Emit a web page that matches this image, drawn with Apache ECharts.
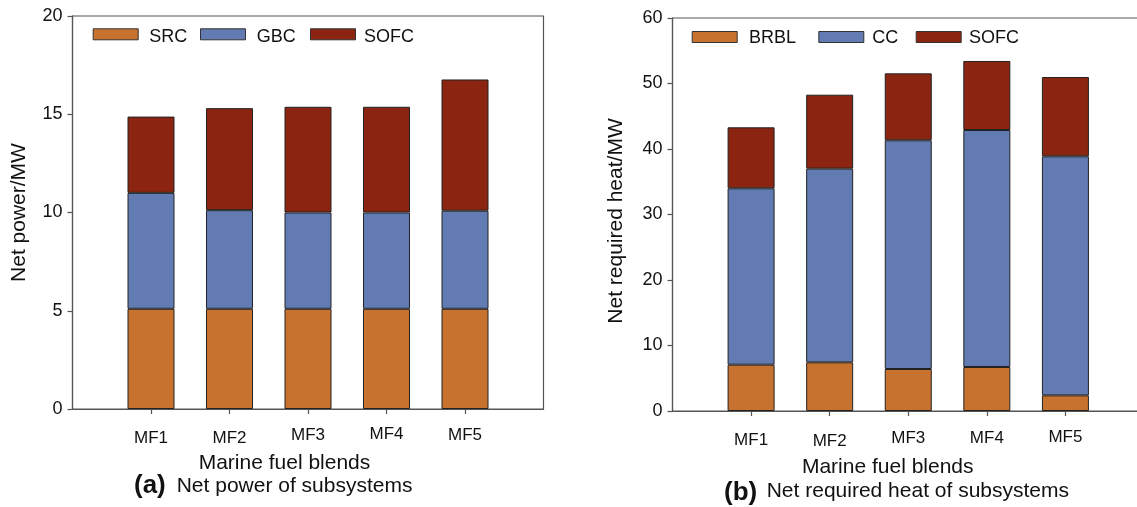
<!DOCTYPE html>
<html>
<head>
<meta charset="utf-8">
<script src="https://cdn.jsdelivr.net/npm/echarts@6/dist/echarts.min.js"></script>
<style>html,body{margin:0;padding:0;background:#fff}#c{width:1137px;height:507px}</style>
</head>
<body>
<div id="c"></div>
<script>
const categories = ['MF1', 'MF2', 'MF3', 'MF4', 'MF5'];
// (a) Net power of subsystems (MW)
const SRC  = [5.1, 5.1, 5.1, 5.1, 5.1];
const GBC  = [5.9, 5.02, 4.9, 4.9, 4.99];
const SOFC_a = [3.88, 5.19, 5.38, 5.38, 6.68];
// (b) Net required heat of subsystems (MW)
const BRBL = [7.07, 7.43, 6.41, 6.72, 2.39];
const CC   = [26.93, 29.57, 34.92, 36.18, 36.49];
const SOFC_b = [9.31, 11.29, 10.22, 10.54, 12.11];
const yTicksA = [0, 5, 10, 15, 20];
const yTicksB = [0, 10, 20, 30, 40, 50, 60];

const FONT = '"Liberation Sans", Arial, sans-serif';
const C_OR = '#C8722F', C_BL = '#637BB3', C_RD = '#8B2511';
const padCats = ['', ...categories, ''];
const pad = arr => ['-', ...arr, '-'];

const chart = echarts.init(document.getElementById('c'), null, {renderer: 'canvas'});

// small per-label vertical offsets seen in the original figure
function labelRich(offsets) {
  const rich = {};
  offsets.forEach((o, i) => {
    rich['p' + (i + 1)] = {padding: [o, 0, 0, 0], fontSize: 17, color: '#111', fontFamily: FONT};
  });
  return rich;
}

function xAxis(gi, shift, gap, offsets) {
  return {
    type: 'category', gridIndex: gi, data: padCats, boundaryGap: false,
    axisLine: {lineStyle: {color: '#555', width: 1.2}},
    axisTick: {length: 5, interval: (i) => i > 0 && i < padCats.length - 1, lineStyle: {color: '#555', width: 1.2}},
    axisLabel: {
      interval: 0, margin: 16, fontSize: 17, color: '#111', fontFamily: FONT,
      formatter: (v, i) => v ? '{p' + i + '|' + v + '}' : '',
      rich: labelRich(offsets)
    },
    splitLine: {show: false},
    name: 'Marine fuel blends', nameLocation: 'middle', nameGap: gap,
    nameTextStyle: {fontSize: 21, color: '#111', fontFamily: FONT, padding: [0, shift, 0, 0]}
  };
}
function yAxis(gi, max, interval, name, gap, pr) {
  return {
    type: 'value', gridIndex: gi, min: 0, max: max, interval: interval,
    axisLine: {show: true, lineStyle: {color: '#555', width: 1.2}},
    axisTick: {show: true, length: 5, lineStyle: {color: '#555', width: 1.2}},
    axisLabel: {margin: 10, fontSize: 18, color: '#111', fontFamily: FONT},
    splitLine: {show: false},
    name: name, nameLocation: 'middle', nameGap: gap,
    nameTextStyle: {fontSize: 21, color: '#111', fontFamily: FONT, padding: [0, pr, 0, 0]}
  };
}
function bar(name, data, color, gi, stack) {
  return {
    type: 'bar', name: name, data: pad(data), stack: stack, xAxisIndex: gi, yAxisIndex: gi,
    barWidth: 47, itemStyle: {color: color, borderColor: '#222', borderWidth: 1}
  };
}
// swatch-only legend item
function legIcon(name, left, top) {
  return {
    data: [name], left: left, top: top, padding: 0, itemWidth: 45, itemHeight: 11,
    selectedMode: false, icon: 'rect', formatter: () => '',
    itemStyle: {borderColor: '#333', borderWidth: 1},
    textStyle: {fontSize: 1, lineHeight: 1}
  };
}
// text-only legend item (transparent icon)
function legText(name, textX, top) {
  return {
    data: [name], left: textX - 15, top: top, padding: 0, itemWidth: 10, itemHeight: 11,
    selectedMode: false, icon: 'rect',
    itemStyle: {color: 'rgba(0,0,0,0)', borderWidth: 0, opacity: 0},
    textStyle: {fontSize: 18, lineHeight: 18, color: '#111', fontFamily: FONT}
  };
}

chart.setOption({
  animation: false,
  grid: [
    {left: 72.5, top: 16, right: 593.5, bottom: 98, show: true, borderColor: '#555', borderWidth: 1.2, outerBoundsMode: 'none', containLabel: false},
    {left: 672.5, top: 18, right: -7, bottom: 96, show: true, borderColor: '#555', borderWidth: 1.2, outerBoundsMode: 'none', containLabel: false}
  ],
  xAxis: [xAxis(0, 47, 44, [5, 5, 1.5, 0.5, 1.5]), xAxis(1, 41, 45.5, [5, 6, 3, 3, 2])],
  yAxis: [yAxis(0, yTicksA[yTicksA.length - 1], yTicksA[1] - yTicksA[0], 'Net power/MW', 43, 0),
          yAxis(1, yTicksB[yTicksB.length - 1], yTicksB[1] - yTicksB[0], 'Net required heat/MW', 46, 13)],
  legend: [
    legIcon('SRC', 92.7, 28.3), legIcon('GBC', 200, 28.3), legIcon('SOFC', 310, 28.3),
    legText('SRC', 149.3, 28.5), legText('GBC', 256.7, 28.5), legText('SOFC', 364, 28.5),
    legIcon('BRBL', 691.7, 31), legIcon('CC', 818.3, 31), legIcon('SOFC', 915.7, 31),
    legText('BRBL', 749, 29.5), legText('CC', 872.3, 29.5), legText('SOFC', 969, 29.5)
  ],
  series: [
    bar('SRC', SRC, C_OR, 0, 'a'), bar('GBC', GBC, C_BL, 0, 'a'), bar('SOFC', SOFC_a, C_RD, 0, 'a'),
    bar('BRBL', BRBL, C_OR, 1, 'b'), bar('CC', CC, C_BL, 1, 'b'), bar('SOFC', SOFC_b, C_RD, 1, 'b')
  ],
  graphic: [
    {type: 'text', left: 134, top: 473, style: {text: '(a)', fontSize: 26, fontWeight: 'bold', fontFamily: FONT, fill: '#111'}},
    {type: 'text', left: 176.7, top: 475.5, style: {text: 'Net power of subsystems', fontSize: 21, fontFamily: FONT, fill: '#111'}},
    {type: 'text', left: 724, top: 480, style: {text: '(b)', fontSize: 26, fontWeight: 'bold', fontFamily: FONT, fill: '#111'}},
    {type: 'text', left: 766.7, top: 480.5, style: {text: 'Net required heat of subsystems', fontSize: 21, fontFamily: FONT, fill: '#111'}}
  ]
});
</script>
</body>
</html>
